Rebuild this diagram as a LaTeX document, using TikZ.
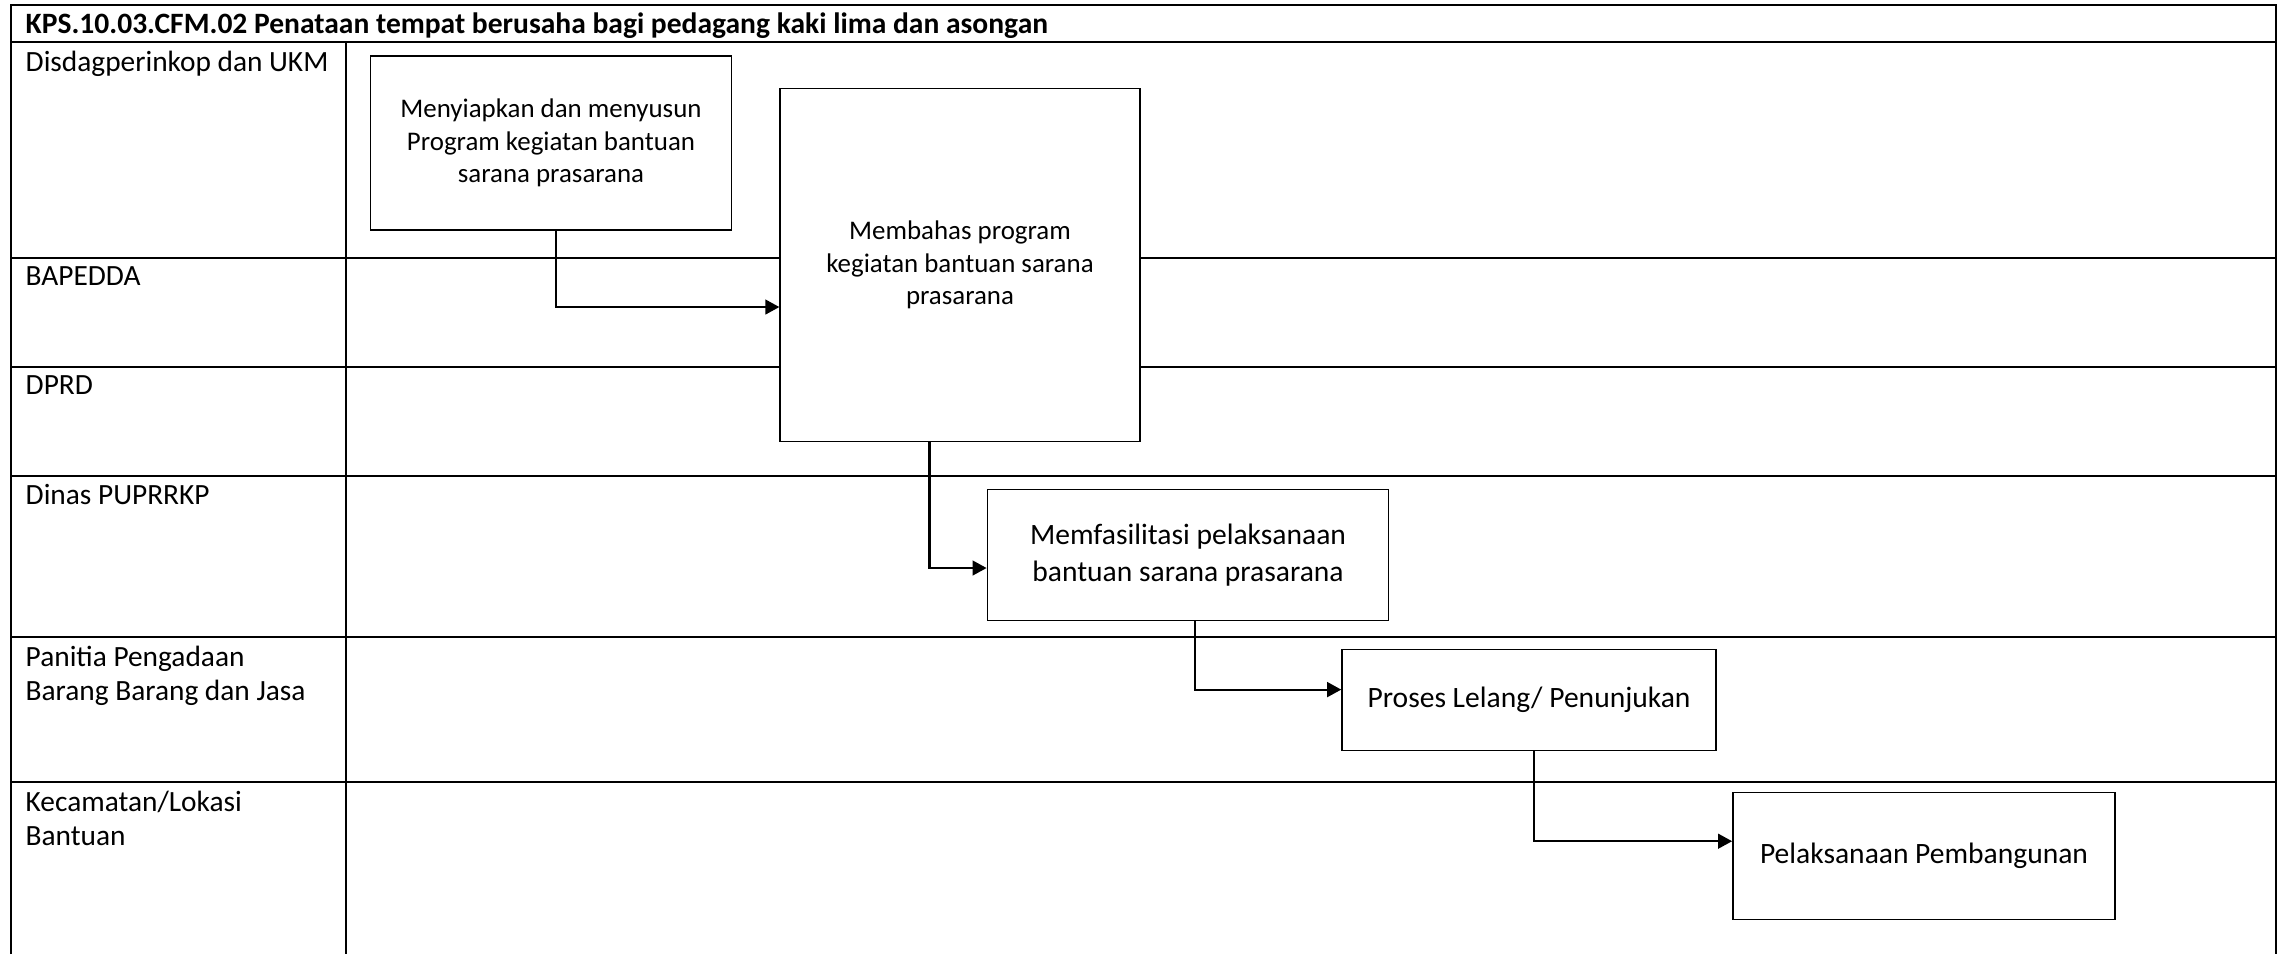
\documentclass[tikz,border=0pt]{standalone}
\usepackage{fontspec}
\setmainfont{Carlito}
\usetikzlibrary{arrows.meta,positioning}

\begin{document}
\begin{tikzpicture}[
  x=0.01cm, y=-0.01cm,
  frame/.style={line width=0.7pt},
  lane/.style={line width=0.5pt},
  role/.style={anchor=north west, inner sep=0pt, align=left, font=\fontsize{8.35}{9.8}\selectfont},
  act/.style={draw, fill=white, line width=0.45pt, inner sep=0pt, align=center, font=\fontsize{7.65}{9.2}\selectfont},
  actwide/.style={act, font=\fontsize{8.4}{10.4}\selectfont},
  flow/.style={-{Triangle[length=4pt, width=4.2pt]}, line width=0.62pt}
]
\useasboundingbox (0,0) rectangle (2289,954);
\foreach \y in {258,367,476,637,782}
  \draw[lane] (11,\y) -- (2276,\y);
\draw[lane] (11,42) -- (2276,42);
\draw[lane] (346,42) -- (346,954);
\draw[frame] (11,954) |- (2276,5) -- (2276,954);
\node[anchor=base west, inner sep=0pt, font=\fontsize{8.4}{10}\selectfont\bfseries] (title) at (25,33) {KPS.10.03.CFM.02 Penataan tempat berusaha bagi pedagang kaki lima dan asongan};
\node[role] (disdag) at (25,50) {Disdagperinkop dan UKM};
\node[role] (bapedda) at (25,266) {BAPEDDA};
\node[role] (dprd) at (25,375) {DPRD};
\node[role] (pupr) at (25,484) {Dinas PUPRRKP};
\node[role] (panitia) at (25,645) {Panitia Pengadaan\\Barang Barang dan Jasa};
\node[role] (camat) at (25,790) {Kecamatan/Lokasi\\Bantuan};
\node[act, minimum width=3.605cm, minimum height=1.74cm] (siapkan) at (551,143) {Menyiapkan dan menyusun\\Program kegiatan bantuan\\sarana prasarana};
\node[act, minimum width=3.595cm, minimum height=3.527cm] (bahas) at (960,265) {Membahas program\\kegiatan bantuan sarana\\prasarana};
\node[actwide, minimum width=4.01cm, minimum height=1.313cm] (fasilitasi) at (1188,555) {Memfasilitasi pelaksanaan\\bantuan sarana prasarana};
\node[actwide, minimum width=3.737cm, minimum height=1.007cm] (lelang) at (1529,700) {Proses Lelang/ Penunjukan};
\node[actwide, minimum width=3.82cm, minimum height=1.27cm] (bangun) at (1924,856) {Pelaksanaan Pembangunan};
\draw[flow] ([xshift=0.05cm]siapkan.south) |- ([yshift=-0.42cm]bahas.west);
\draw[flow] ([xshift=-0.305cm]bahas.south) |- ([yshift=-0.13cm]fasilitasi.west);
\draw[flow] ([xshift=0.07cm]fasilitasi.south) |- ([yshift=0.104cm]lelang.west);
\draw[flow] ([xshift=0.046cm]lelang.south) |- ([yshift=0.148cm]bangun.west);
\end{tikzpicture}
\end{document}
